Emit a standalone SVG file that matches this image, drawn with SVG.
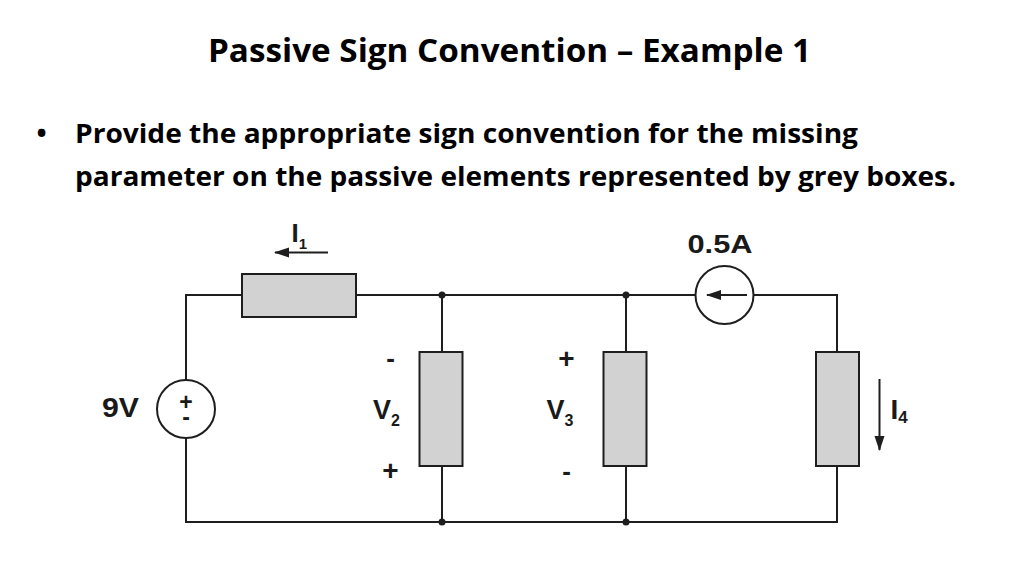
<svg xmlns="http://www.w3.org/2000/svg" width="1024" height="576" viewBox="0 0 1024 576">
<style>
.title{font-family:"Open Sans","Noto Sans","Liberation Sans",sans-serif;font-weight:700;fill:#000}
.lbl{font-family:"Liberation Sans",Arial,sans-serif;font-weight:700;fill:#1a1a1a}
.wire{stroke:#1e1e1e;stroke-width:2;fill:none}
.res{fill:#d2d2d2;stroke:#1e1e1e;stroke-width:2}
.src{fill:#fff;stroke:#1e1e1e;stroke-width:2}
.dot{fill:#1e1e1e}
</style>
<defs>
<marker id="ah" markerUnits="userSpaceOnUse" markerWidth="16" markerHeight="12" refX="14" refY="5" orient="auto">
<path d="M0,0 L15,5 L0,10 z" fill="#1e1e1e"/>
</marker>
</defs>
<rect width="1024" height="576" fill="#fff"/>
<text class="title" x="208" y="62" font-size="33" textLength="603" lengthAdjust="spacingAndGlyphs">Passive Sign Convention – Example 1</text>
<text class="title" x="41.5" y="143" font-size="27" text-anchor="middle">•</text>
<text class="title" x="75" y="143" font-size="27.5" textLength="783" lengthAdjust="spacingAndGlyphs">Provide the appropriate sign convention for the missing</text>
<text class="title" x="75" y="186" font-size="27.5" textLength="881" lengthAdjust="spacingAndGlyphs">parameter on the passive elements represented by grey boxes.</text>

<g id="connectors">
<polyline class="wire" points="242,295 186,295 186,380"/>
<polyline class="wire" points="186,438 186,522 837,522 837,466"/>
<line class="wire" x1="356" y1="295" x2="695.5" y2="295"/>
<polyline class="wire" points="753.5,295 837,295 837,352"/>
<line class="wire" x1="442" y1="295" x2="442" y2="352"/>
<line class="wire" x1="442" y1="466" x2="442" y2="522"/>
<line class="wire" x1="626" y1="295" x2="626" y2="352"/>
<line class="wire" x1="626" y1="466" x2="626" y2="522"/>
<circle class="dot" cx="442" cy="295" r="3.5"/>
<circle class="dot" cx="442" cy="522" r="3.5"/>
<circle class="dot" cx="626" cy="295" r="3.5"/>
<circle class="dot" cx="626" cy="522" r="3.5"/>
</g>

<g id="R1">
<rect class="res" x="242" y="274" width="114" height="43"/>
<line class="wire" x1="328" y1="252.5" x2="275" y2="252.5" marker-end="url(#ah)"/>
<text class="lbl" x="291.5" y="242" font-size="26">I<tspan font-size="15" dy="6.5">1</tspan></text>
</g>

<g id="R2">
<rect class="res" x="419.5" y="352" width="43" height="114"/>
<text class="lbl" x="390.5" y="367" font-size="26" text-anchor="middle">-</text>
<text class="lbl" x="373" y="419" font-size="27">V<tspan font-size="16" dy="7">2</tspan></text>
<text class="lbl" x="390.5" y="480" font-size="28" text-anchor="middle">+</text>
</g>

<g id="R3">
<rect class="res" x="603.5" y="352" width="43" height="114"/>
<text class="lbl" x="566.5" y="367.5" font-size="28" text-anchor="middle">+</text>
<text class="lbl" x="546.5" y="419" font-size="27">V<tspan font-size="16" dy="7">3</tspan></text>
<text class="lbl" x="566.5" y="480" font-size="26" text-anchor="middle">-</text>
</g>

<g id="R4">
<rect class="res" x="816" y="352" width="43" height="114"/>
<line class="wire" x1="879.5" y1="379" x2="879.5" y2="450" marker-end="url(#ah)"/>
<text class="lbl" x="890.5" y="418.5" font-size="28">I<tspan font-size="17" dy="4.5">4</tspan></text>
</g>

<g id="Vs">
<circle class="src" cx="186" cy="409" r="29"/>
<text class="lbl" font-size="23" text-anchor="middle"><tspan x="186" y="409.5">+</tspan><tspan x="186" y="424.5">-</tspan></text>
<text class="lbl" x="102" y="417" font-size="27" textLength="37" lengthAdjust="spacingAndGlyphs">9V</text>
</g>

<g id="Is">
<circle class="src" cx="724.5" cy="295" r="29"/>
<line class="wire" x1="747" y1="295" x2="707" y2="295" marker-end="url(#ah)"/>
<text class="lbl" x="687.5" y="252.5" font-size="26.5" textLength="65" lengthAdjust="spacingAndGlyphs">0.5A</text>
</g>
</svg>
